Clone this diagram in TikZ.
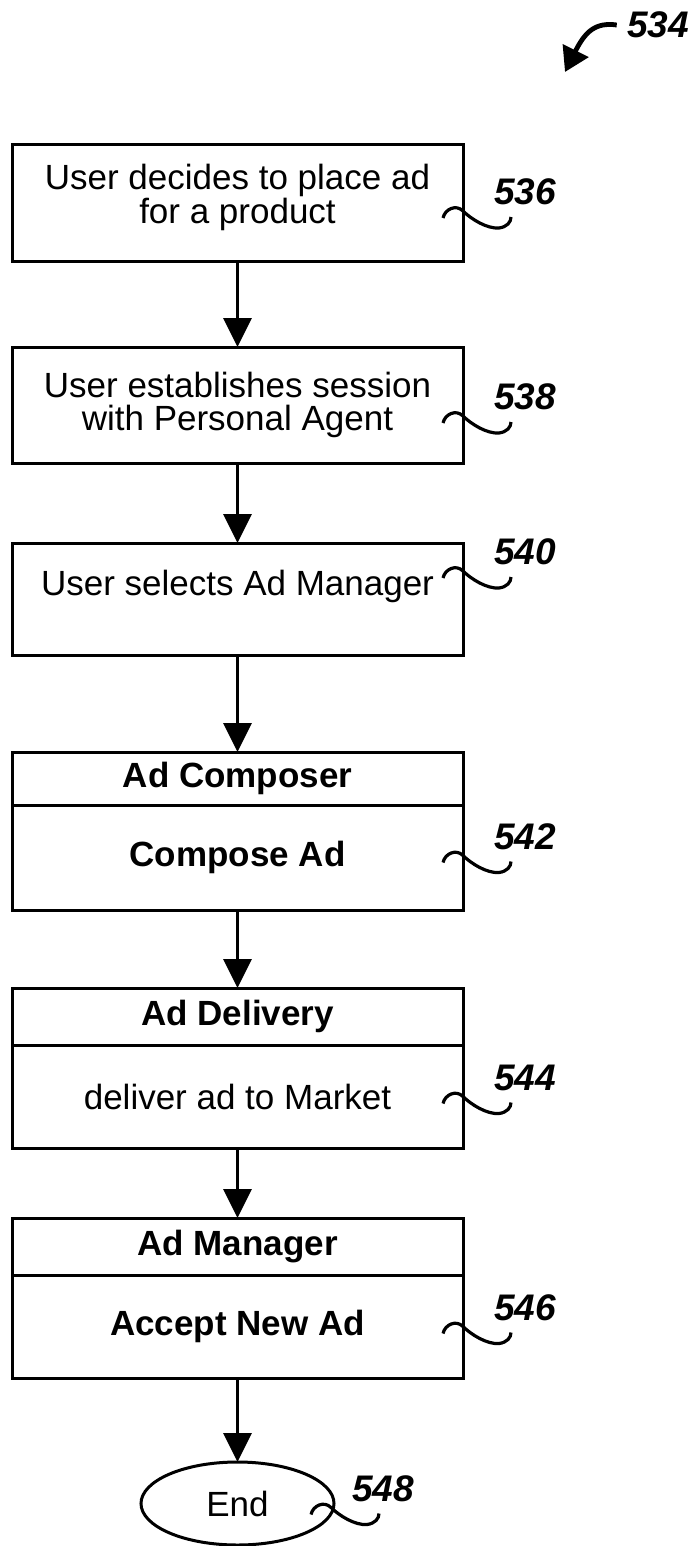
\documentclass[tikz,border=0pt]{standalone}
\usepackage{fontspec}
\setmainfont{Liberation Sans}
\usetikzlibrary{arrows.meta,positioning,shapes.geometric}

\begin{document}
\begin{tikzpicture}[x=0.5pt, y=-0.5pt,
  every node/.style={font=\fontsize{17.5}{16.8}\selectfont},
  stepbox/.style={draw, line width=1.5pt, minimum width=225.5pt, align=center, inner sep=0pt, outer sep=0pt},
  headbox/.style={stepbox, font=\fontsize{17.5}{16.8}\selectfont\bfseries},
  ref/.style={font=\fontsize{18.5}{18.5}\selectfont\bfseries\itshape, inner sep=0pt},
  flow/.style={-{Triangle[length=14.5pt, width=14pt]}, line width=1.5pt},
  squig/.pic={\draw[line width=1.6pt] (-20,7) .. controls (-18,-2) and (-7,-7) .. (0,0) .. controls (8,8) and (24,18) .. (36,17) .. controls (44,16) and (48,11) .. (48,6);}]
  \useasboundingbox (0,0) rectangle (696,1546);

  % steps
  \node[stepbox, minimum height=58pt, text depth=9pt] (decide) at (237.5,203) {User decides to place ad\\for a product};
  \node[stepbox, minimum height=58pt, below=43pt of decide] (session) {User establishes session\\with Personal Agent};
  \node[stepbox, minimum height=56pt, text depth=16pt, below=40pt of session] (select) {User selects Ad Manager};
  \node[headbox, minimum height=26.5pt, below=48.5pt of select] (composeH) {Ad Composer};
  \node[headbox, minimum height=52.5pt, below=0pt of composeH] (compose) {Compose Ad};
  \node[headbox, minimum height=28.5pt, below=39pt of compose] (deliveryH) {Ad Delivery};
  \node[stepbox, minimum height=51.5pt, below=0pt of deliveryH] (delivery) {deliver ad to Market};
  \node[headbox, minimum height=28.5pt, below=35pt of delivery] (managerH) {Ad Manager};
  \node[headbox, minimum height=51.5pt, below=0pt of managerH] (manager) {Accept New Ad};
  \node[draw, ellipse, line width=1.5pt, minimum width=96.5pt, minimum height=41.5pt, inner sep=0pt, outer sep=0pt, below=42pt of manager] (done) {End};

  \draw[flow] (decide) -- (session);
  \draw[flow] (session) -- (select);
  \draw[flow] (select) -- (composeH);
  \draw[flow] (compose) -- (deliveryH);
  \draw[flow] (delivery) -- (managerH);
  \draw[flow] (manager) -- (done);

  % reference numerals
  \coordinate (t536) at ([yshift=-4pt]decide.east);
  \coordinate (t538) at ([yshift=-5.5pt]session.east);
  \coordinate (t540) at ([yshift=14pt]select.east);
  \coordinate (t542) at ([yshift=1pt]compose.east);
  \coordinate (t544) at (delivery.east);
  \coordinate (t546) at (manager.east);
  \coordinate (t548) at ([shift={(-3,4)}]done.east);
  \pic at (t536) {squig};
  \pic at (t538) {squig};
  \pic at (t540) {squig};
  \pic at (t542) {squig};
  \pic at (t544) {squig};
  \pic at (t546) {squig};
  \pic at (t548) {squig};
  \node[ref] (l536) at ([shift={(62,-19)}]t536) {536};
  \node[ref] (l538) at ([shift={(62,-19)}]t538) {538};
  \node[ref] (l540) at ([shift={(62,-19)}]t540) {540};
  \node[ref] (l542) at ([shift={(62,-19)}]t542) {542};
  \node[ref] (l544) at ([shift={(62,-19)}]t544) {544};
  \node[ref] (l546) at ([shift={(62,-19)}]t546) {546};
  \node[ref] (l548) at ([shift={(52,-19)}]t548) {548};

  \node[ref] (l534) at (658,25) {534};
  \coordinate (a534) at (565,72);
  \draw[line width=2.4pt, -{Triangle[length=12pt, width=14pt]}] ([xshift=-5pt]l534.west) .. controls (595,22) and (585,32) .. (a534);
\end{tikzpicture}
\end{document}
